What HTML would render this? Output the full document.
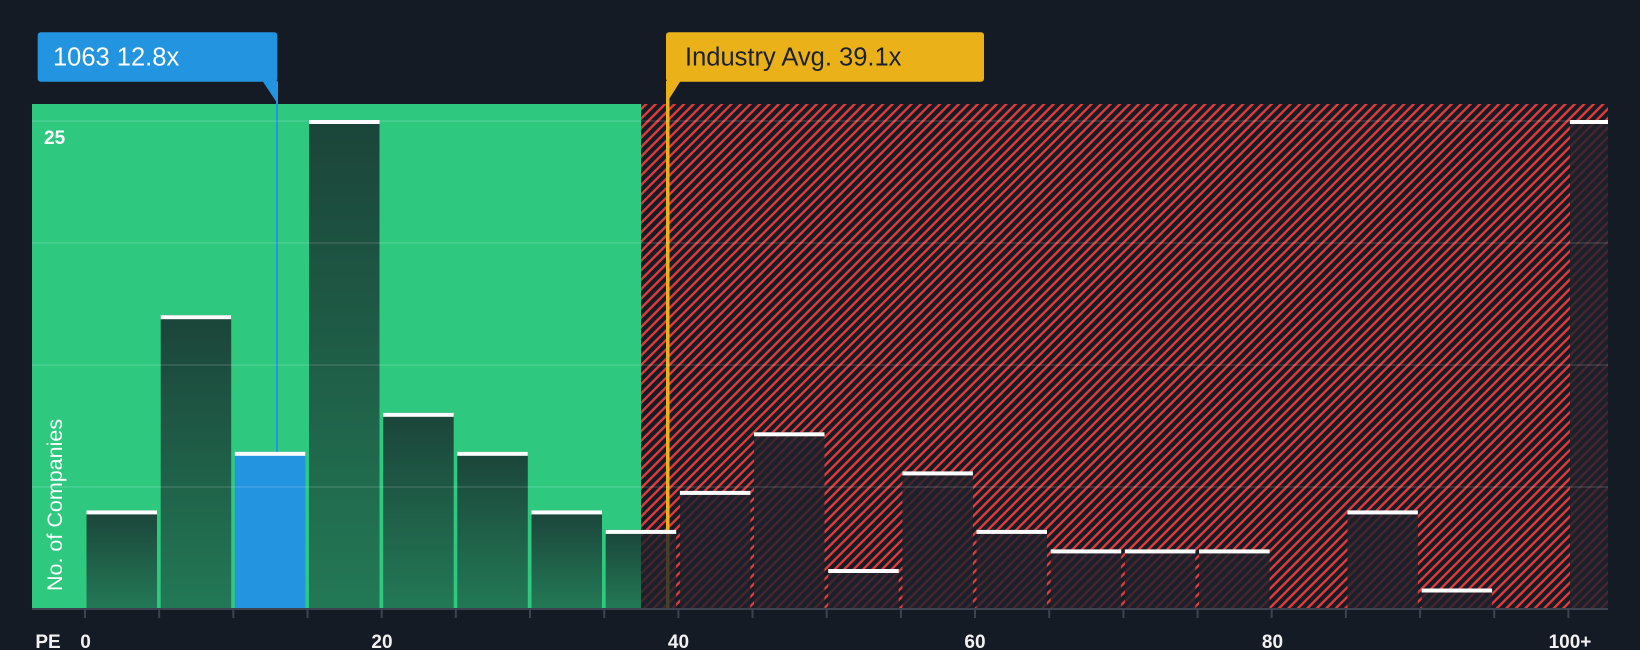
<!DOCTYPE html>
<html>
<head>
<meta charset="utf-8">
<style>
html,body{margin:0;padding:0;background:#151b24;}
svg{display:block;}
text{font-family:"Liberation Sans",Arial,sans-serif;}
</style>
</head>
<body>
<svg width="1640" height="650" viewBox="0 0 1640 650" xmlns="http://www.w3.org/2000/svg">
  <defs>
    <pattern id="hatch" patternUnits="userSpaceOnUse" width="6.7" height="20" patternTransform="rotate(45)">
      <rect x="0" y="0" width="2.4" height="20" fill="#e03a3c"/>
    </pattern>
    <linearGradient id="gbar" x1="0" y1="0" x2="0" y2="1">
      <stop offset="0" stop-color="#151b24" stop-opacity="0.76"/>
      <stop offset="1" stop-color="#151b24" stop-opacity="0.46"/>
    </linearGradient>
  </defs>

  <rect x="0" y="0" width="1640" height="650" fill="#151b24"/>

  <!-- green region -->
  <rect x="32" y="104" width="609" height="504" fill="#2ec87f"/>
  <!-- hatched region -->
  <rect x="641" y="104" width="967" height="504" fill="#161c25"/>
  <rect x="641" y="104" width="967" height="504" fill="url(#hatch)"/>

  <!-- marker lines -->
  <rect x="276" y="82" width="2" height="372" fill="#2394df"/>
  <rect x="666" y="82" width="3.5" height="526" fill="#ebb119"/>

  <!-- bars green region -->
  <g fill="url(#gbar)">
    <rect x="86.5" y="510.4" width="70.5" height="97.6"/>
    <rect x="160.7" y="315.2" width="70.5" height="292.8"/>
    <rect x="309.0" y="120" width="70.5" height="488"/>
    <rect x="383.2" y="412.8" width="70.5" height="195.2"/>
    <rect x="457.3" y="451.8" width="70.5" height="156.2"/>
    <rect x="531.5" y="510.4" width="70.5" height="97.6"/>
    <rect x="605.7" y="529.9" width="35.3" height="78.1"/>
  </g>
  <!-- blue bar -->
  <rect x="234.8" y="451.8" width="70.5" height="156.2" fill="#2394df"/>

  <!-- bars hatched region -->
  <g fill="rgba(30,34,44,0.8)">
    <rect x="641" y="529.9" width="35.2" height="78.1"/>
    <rect x="679.9" y="490.9" width="70.5" height="117.1"/>
    <rect x="754.0" y="432.3" width="70.5" height="175.7"/>
    <rect x="828.2" y="569.0" width="70.5" height="39"/>
    <rect x="902.4" y="471.4" width="70.5" height="136.6"/>
    <rect x="976.5" y="529.9" width="70.5" height="78.1"/>
    <rect x="1050.7" y="549.4" width="70.5" height="58.6"/>
    <rect x="1124.9" y="549.4" width="70.5" height="58.6"/>
    <rect x="1199.1" y="549.4" width="70.5" height="58.6"/>
    <rect x="1347.4" y="510.4" width="70.5" height="97.6"/>
    <rect x="1421.6" y="588.5" width="70.5" height="19.5"/>
    <rect x="1569.9" y="120" width="38.1" height="488"/>
  </g>

  <!-- caps -->
  <g fill="#ffffff">
    <rect x="86.5" y="510.4" width="70.5" height="4"/>
    <rect x="160.7" y="315.2" width="70.5" height="4"/>
    <rect x="234.8" y="451.8" width="70.5" height="4"/>
    <rect x="309.0" y="120" width="70.5" height="4"/>
    <rect x="383.2" y="412.8" width="70.5" height="4"/>
    <rect x="457.3" y="451.8" width="70.5" height="4"/>
    <rect x="531.5" y="510.4" width="70.5" height="4"/>
    <rect x="605.7" y="529.9" width="70.5" height="4"/>
    <rect x="679.9" y="490.9" width="70.5" height="4"/>
    <rect x="754.0" y="432.3" width="70.5" height="4"/>
    <rect x="828.2" y="569.0" width="70.5" height="4"/>
    <rect x="902.4" y="471.4" width="70.5" height="4"/>
    <rect x="976.5" y="529.9" width="70.5" height="4"/>
    <rect x="1050.7" y="549.4" width="70.5" height="4"/>
    <rect x="1124.9" y="549.4" width="70.5" height="4"/>
    <rect x="1199.1" y="549.4" width="70.5" height="4"/>
    <rect x="1347.4" y="510.4" width="70.5" height="4"/>
    <rect x="1421.6" y="588.5" width="70.5" height="4"/>
    <rect x="1569.9" y="120" width="38.1" height="4"/>
  </g>

  <!-- gridlines -->
  <g fill="rgba(255,255,255,0.1)">
    <rect x="32" y="120" width="1576" height="2"/>
    <rect x="32" y="242" width="1576" height="2"/>
    <rect x="32" y="364" width="1576" height="2"/>
    <rect x="32" y="486" width="1576" height="2"/>
  </g>

  <!-- axis -->
  <rect x="32" y="608" width="1576" height="2" fill="#3d4350"/>
  <g fill="#3d4350">
    <rect x="84" y="610" width="2" height="8"/>
    <rect x="158.2" y="610" width="2" height="8"/>
    <rect x="232.3" y="610" width="2" height="8"/>
    <rect x="306.5" y="610" width="2" height="8"/>
    <rect x="380.7" y="610" width="2" height="8"/>
    <rect x="454.8" y="610" width="2" height="8"/>
    <rect x="529.0" y="610" width="2" height="8"/>
    <rect x="603.2" y="610" width="2" height="8"/>
    <rect x="677.4" y="610" width="2" height="8"/>
    <rect x="751.5" y="610" width="2" height="8"/>
    <rect x="825.7" y="610" width="2" height="8"/>
    <rect x="899.9" y="610" width="2" height="8"/>
    <rect x="974.0" y="610" width="2" height="8"/>
    <rect x="1048.2" y="610" width="2" height="8"/>
    <rect x="1122.4" y="610" width="2" height="8"/>
    <rect x="1196.6" y="610" width="2" height="8"/>
    <rect x="1270.7" y="610" width="2" height="8"/>
    <rect x="1344.9" y="610" width="2" height="8"/>
    <rect x="1419.1" y="610" width="2" height="8"/>
    <rect x="1493.2" y="610" width="2" height="8"/>
    <rect x="1567.4" y="610" width="2" height="8"/>
  </g>

  <!-- tick labels -->
  <g fill="#f2f2f2" font-size="19" font-weight="bold" text-anchor="middle">
    <text x="48" y="648">PE</text>
    <text x="85.5" y="648">0</text>
    <text x="382" y="648">20</text>
    <text x="678.5" y="648">40</text>
    <text x="975" y="648">60</text>
    <text x="1272.5" y="648">80</text>
    <text x="1570" y="648">100+</text>
  </g>

  <!-- y labels -->
  <text x="44" y="144" fill="#ffffff" font-size="19" font-weight="bold">25</text>
  <text transform="translate(62,591) rotate(-90)" fill="#ffffff" font-size="21.5">No. of Companies</text>

  <!-- blue label -->
  <rect x="37.7" y="32.3" width="239.6" height="49.4" rx="3" fill="#2394df"/>
  <polygon points="262.5,81 277.7,81 277.7,104" fill="#2394df"/>
  <text x="53" y="65.7" fill="#ffffff" font-size="25.5">1063 12.8x</text>

  <!-- yellow label -->
  <rect x="666" y="32.3" width="318" height="49.4" rx="3" fill="#ebb119"/>
  <polygon points="666,81 680.5,81 666,104" fill="#ebb119"/>
  <text x="685" y="65.7" fill="#1c2129" font-size="25.5">Industry Avg. 39.1x</text>
</svg>
</body>
</html>
